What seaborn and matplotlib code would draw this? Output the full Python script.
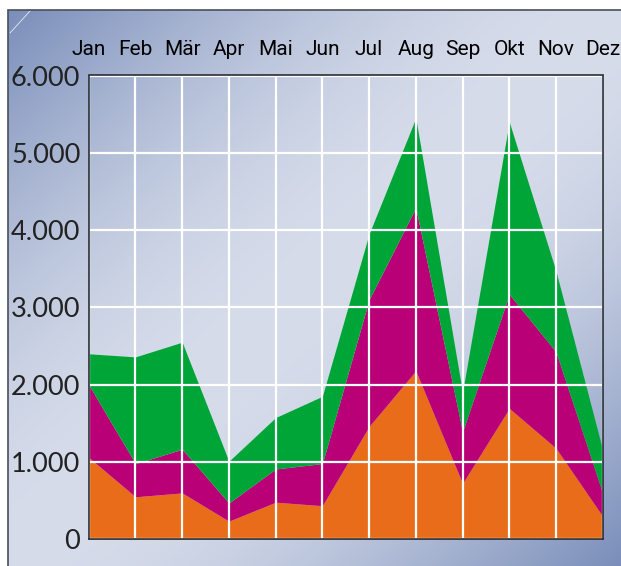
import numpy as np
import seaborn as sns
import matplotlib.pyplot as plt
from matplotlib.ticker import FuncFormatter
from matplotlib.patches import Rectangle
from matplotlib.lines import Line2D

months = ["Jan", "Feb", "Mär", "Apr", "Mai", "Jun",
          "Jul", "Aug", "Sep", "Okt", "Nov", "Dez"]
orange = [1060, 550, 600, 235, 480, 435, 1460, 2180, 725, 1695, 1180, 300]
magenta = [940, 430, 565, 235, 430, 545, 1640, 2110, 665, 1475, 1245, 295]
green = [400, 1380, 1385, 540, 665, 870, 850, 1160, 510, 2230, 1045, 560]
yticks = [0, 1000, 2000, 3000, 4000, 5000, 6000]

sns.set_style("white")
plt.rcParams["font.family"] = ["DejaVu Sans"]

fig = plt.figure(figsize=(6.21, 5.66), dpi=100)

# gradient background inside the outer frame
bg = fig.add_axes([8 / 621, 0, 1 - 8 / 621, 1 - 10 / 566])
h, w = 300, 300
yy, xx = np.mgrid[0:h, 0:w]
u = (xx / (w - 1) + yy / (h - 1)) / 2
t = np.cos((u - 0.5) * np.pi) ** 1.0
dark = np.array([122, 142, 186]) / 255
light = np.array([214, 220, 234]) / 255
img = dark[None, None, :] + (light - dark)[None, None, :] * t[..., None]
bg.imshow(img, aspect="auto", extent=[0, 1, 0, 1], origin="upper")
bg.set_xlim(0, 1)
bg.set_ylim(0, 1)
bg.axis("off")
fig.patches.append(Rectangle((8 / 621, -0.01), 1, 1 - 10 / 566 + 0.01,
                             transform=fig.transFigure, fill=False,
                             edgecolor="#4a4f5c", linewidth=1.2, zorder=5))
fig.lines.append(Line2D([10 / 621, 30 / 621], [1 - 33 / 566, 1 - 11 / 566],
                        transform=fig.transFigure, color="white",
                        linewidth=0.6, alpha=0.8))

ax = fig.add_axes([88.7 / 621, 1 - 539.3 / 566, (602.7 - 88.7) / 621,
                   (539.3 - 75.5) / 566])
ax.patch.set_alpha(0)

x = np.arange(len(months))
ax.stackplot(x, orange, magenta, green,
             colors=["#E86C1A", "#BA0077", "#00A538"], linewidth=0)

ax.set_xlim(0, 11)
ax.set_ylim(0, 6000)
ax.set_xticks(x)
ax.set_xticklabels(months)
ax.set_yticks(yticks)
ax.yaxis.set_major_formatter(FuncFormatter(lambda v, p: f"{int(v):,}".replace(",", ".")))
ax.xaxis.tick_top()
ax.tick_params(axis="x", length=0, pad=12, labelsize=15, labelcolor="black")
ax.tick_params(axis="y", length=0, pad=6, labelsize=19.5, labelcolor="#222222")
for lab in ax.get_xticklabels():
    lab.set_family(["Roboto", "DejaVu Sans"])
    lab.set_weight("normal")
for lab in ax.get_yticklabels():
    lab.set_family(["Lato", "DejaVu Sans"])
    lab.set_weight("normal")

ax.grid(True, color="white", linewidth=1.6)
ax.set_axisbelow(False)
for s in ax.spines.values():
    s.set_visible(True)
    s.set_color("#2b2f33")
    s.set_linewidth(1.2)
    s.set_zorder(4)

fig.savefig("out.png", dpi=100)
